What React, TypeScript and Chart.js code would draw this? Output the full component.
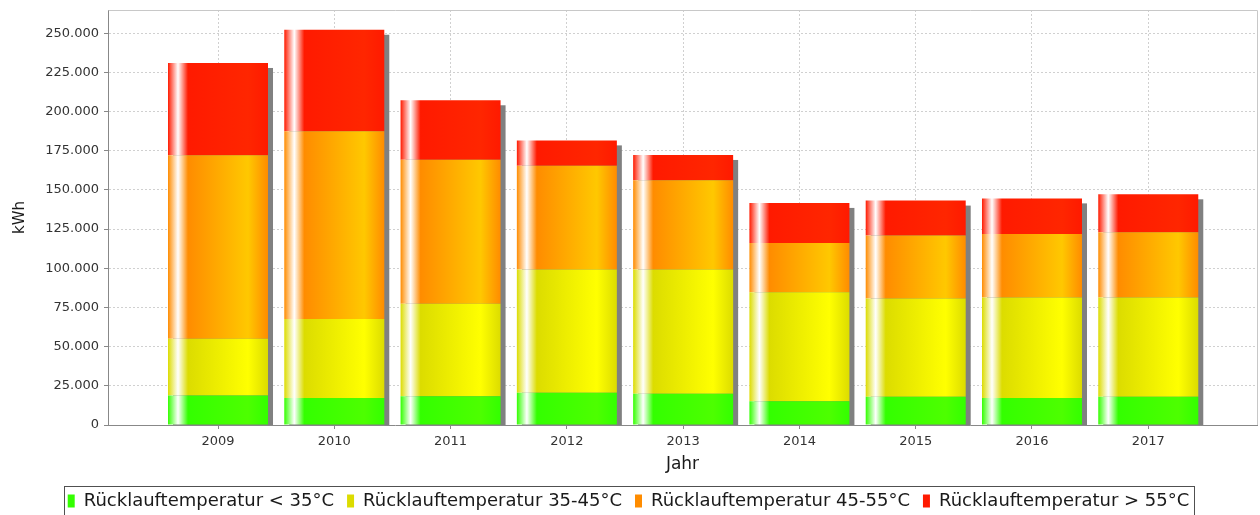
import React, { useEffect, useRef } from "react";
import { Chart, registerables } from "chart.js";

Chart.register(...registerables);

const years = ["2009", "2010", "2011", "2012", "2013", "2014", "2015", "2016", "2017"];
const below35 = [18800, 17300, 18400, 20500, 19900, 15200, 18000, 17300, 18000];
const from35to45 = [36200, 50400, 58900, 78700, 79300, 69500, 62700, 64000, 63300];
const from45to55 = [117100, 119700, 92000, 66300, 56900, 31500, 40200, 40600, 41700];
const above55 = [58900, 64800, 37900, 16100, 16200, 25500, 22300, 22700, 24200];
const yTickValues = [0, 25000, 50000, 75000, 100000, 125000, 150000, 175000, 200000, 225000, 250000];
const seriesLabels = [
  "Rücklauftemperatur < 35°C",
  "Rücklauftemperatur 35-45°C",
  "Rücklauftemperatur 45-55°C",
  "Rücklauftemperatur > 55°C",
];
const baseColors = ["#33ff00", "#dcdc00", "#ff8c00", "#ff1a00"];
const brightColors = ["#4dff00", "#ffff00", "#ffc800", "#ff2600"];

const Y_MAX = 264800;
const X_MIN = -0.946;
const X_MAX = 8.935;
const BAR_PCT = 0.86;
const FONT = "'DejaVu Sans', sans-serif";

function formatDe(v: number): string {
  return String(Math.round(v)).replace(/\B(?=(\d{3})+(?!\d))/g, ".");
}

function gradientFor(chart: any, i: number, c0: string, c1: string) {
  const xs = chart.scales && chart.scales.x;
  if (!xs || !isFinite(xs.getPixelForValue(0))) return c0;
  const cx = xs.getPixelForValue(i);
  const half = ((xs.getPixelForValue(1) - xs.getPixelForValue(0)) * BAR_PCT) / 2;
  if (!isFinite(cx) || !isFinite(half) || half <= 0) return c0;
  const g = chart.ctx.createLinearGradient(cx - half, 0, cx + half, 0);
  g.addColorStop(0, c0);
  g.addColorStop(0.1, "#ffffff");
  g.addColorStop(0.2, c0);
  g.addColorStop(0.8, c1);
  g.addColorStop(1, c0);
  return g;
}

const shadowPlugin = {
  id: "barShadow",
  beforeDatasetsDraw(chart: any) {
    const n = chart.data.datasets.length;
    const meta = chart.getDatasetMeta(n - 1);
    const base = chart.scales.y.getPixelForValue(0);
    const ctx = chart.ctx;
    ctx.save();
    ctx.fillStyle = "#808080";
    meta.data.forEach((el: any) => {
      const p = el.getProps(["x", "y", "width"], true);
      ctx.fillRect(p.x - p.width / 2 + 5, p.y + 5, p.width, base - p.y - 5);
    });
    ctx.restore();
  },
};

const framePlugin = {
  id: "frames",
  afterDraw(chart: any) {
    const ctx = chart.ctx;
    const a = chart.chartArea;
    ctx.save();
    ctx.strokeStyle = "#c8c8c8";
    ctx.lineWidth = 1;
    ctx.beginPath();
    ctx.moveTo(Math.round(a.left) + 0.5, Math.round(a.top) + 0.5);
    ctx.lineTo(Math.round(a.right) + 0.5, Math.round(a.top) + 0.5);
    ctx.lineTo(Math.round(a.right) + 0.5, Math.round(a.bottom));
    ctx.stroke();
    const lg = chart.legend;
    if (lg && lg.legendHitBoxes && lg.legendHitBoxes.length) {
      const hb = lg.legendHitBoxes;
      let l = Infinity, r = -Infinity;
      hb.forEach((b: any) => {
        l = Math.min(l, b.left);
        r = Math.max(r, b.left + b.width);
      });
      ctx.strokeStyle = "#505050";
      ctx.strokeRect(Math.round(l - 4) + 0.5, 486.5, Math.round(r - l + 8), 40);
    }
    ctx.restore();
  },
};

export default function App() {
  const ref = useRef<HTMLCanvasElement | null>(null);

  useEffect(() => {
    document.body.style.margin = "0";
    const seriesValues = [below35, from35to45, from45to55, above55];
    const datasets = seriesValues.map((vals, s) => ({
      label: seriesLabels[s],
      data: vals.map((v, i) => ({ x: i, y: v })),
      backgroundColor: (c: any) => gradientFor(c.chart, c.dataIndex, baseColors[s], brightColors[s]),
      borderWidth: 0,
      categoryPercentage: 1,
      barPercentage: BAR_PCT,
    }));

    const chart = new Chart(ref.current as HTMLCanvasElement, {
      type: "bar",
      data: { datasets },
      plugins: [shadowPlugin, framePlugin],
      options: {
        animation: false,
        responsive: true,
        maintainAspectRatio: false,
        devicePixelRatio: 1,
        layout: { padding: { top: 10, right: 3, bottom: -5, left: 0 } },
        font: { family: FONT },
        plugins: {
          tooltip: { enabled: false },
          legend: {
            position: "bottom",
            labels: {
              font: { family: FONT, size: 18 },
              color: "#1a1a1a",
              boxWidth: 7,
              boxHeight: 13,
              padding: 13,
              generateLabels: (ch: any) =>
                ch.data.datasets.map((ds: any, i: number) => ({
                  text: ds.label,
                  fillStyle: baseColors[i],
                  strokeStyle: baseColors[i],
                  lineWidth: 0,
                  hidden: false,
                  datasetIndex: i,
                  fontColor: "#1a1a1a",
                })),
            },
          },
        },
        scales: {
          x: {
            type: "linear",
            stacked: true,
            offset: false,
            min: X_MIN,
            max: X_MAX,
            afterBuildTicks: (s: any) => {
              s.ticks = years.map((_, i) => ({ value: i }));
            },
            afterFit: (s: any) => {
              s.height = 54;
              s.paddingLeft = 0;
              s.paddingRight = 0;
            },
            ticks: {
              autoSkip: false,
              maxRotation: 0,
              padding: 5,
              color: "#333333",
              font: { family: FONT, size: 13 },
              callback: (v: any) => years[Math.round(Number(v))] ?? "",
            },
            grid: {
              offset: false,
              color: "#d0d0d0",
              tickColor: "#888888",
              tickLength: 4,
              drawOnChartArea: true,
            },
            border: { display: true, color: "#888888", width: 1, dash: [2, 2] },
            title: {
              display: true,
              text: "Jahr",
              color: "#1a1a1a",
              font: { family: FONT, size: 17 },
              padding: { top: 0, bottom: 4 },
            },
          },
          y: {
            type: "linear",
            stacked: true,
            min: 0,
            max: Y_MAX,
            afterBuildTicks: (s: any) => {
              s.ticks = yTickValues.map((v) => ({ value: v }));
            },
            afterFit: (s: any) => {
              s.width = 108;
              s.paddingTop = 0;
              s.paddingBottom = 0;
            },
            ticks: {
              padding: 5,
              color: "#333333",
              font: { family: FONT, size: 13 },
              callback: (v: any) => formatDe(Number(v)),
            },
            grid: {
              color: "#d0d0d0",
              tickColor: "#888888",
              tickLength: 4,
            },
            border: { display: true, color: "#888888", width: 1, dash: [2, 2] },
            title: {
              display: true,
              text: "kWh",
              color: "#1a1a1a",
              font: { family: FONT, size: 15 },
              padding: { top: 11, bottom: 0 },
            },
          },
        },
      },
    } as any);
    return () => chart.destroy();
  }, []);

  return (
    <div style={{ position: "relative", width: 1260, height: 515 }}>
      <canvas ref={ref} />
    </div>
  );
}
